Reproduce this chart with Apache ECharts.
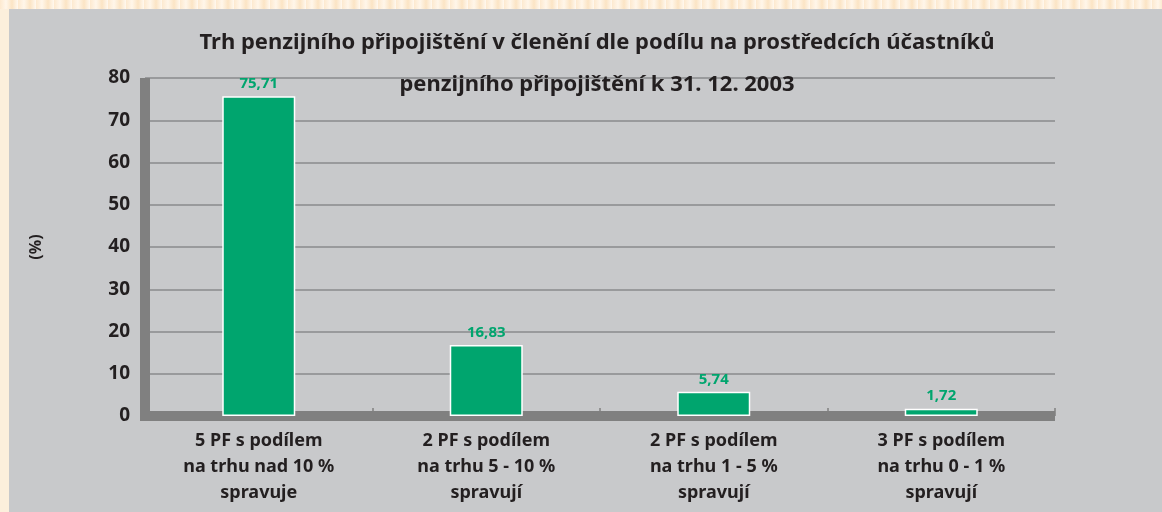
<!DOCTYPE html>
<html>
<head>
<meta charset="utf-8">
<script src="https://cdn.jsdelivr.net/npm/echarts@6/dist/echarts.min.js"></script>
<style>
	html, body {
		margin: 0;
		padding: 0;
		background: #fcefdc;
	}
	.border-top {
		position: absolute;
		left: 0;
		top: 0;
		width: 1162px;
		height: 9px;
		background: repeating-linear-gradient(90deg, #fde9cf 0px, #fff6ea 6px, #fbe4c4 12px, #fff8ef 18px);
	}
	#chart {
		position: absolute;
		left: 0;
		top: 0;
		width: 1162px;
		height: 512px;
	}
</style>
</head>
<body>
<div class="border-top"></div>
<div id="chart"></div>
<script>
	let categories = [
		'5 PF s podílem\nna trhu nad 10 %\nspravuje',
		'2 PF s podílem\nna trhu 5 - 10 %\nspravují',
		'2 PF s podílem\nna trhu 1 - 5 %\nspravují',
		'3 PF s podílem\nna trhu 0 - 1 %\nspravují'
	];
	let shares = [75.71, 16.83, 5.74, 1.72];
	let yTicks = [0, 10, 20, 30, 40, 50, 60, 70, 80];

	let font = 'Noto Sans';

	let option = {
		backgroundColor: 'transparent',
		animation: false,
		graphic: [{
			type: 'rect',
			z: -100,
			silent: true,
			shape: { x: 9, y: 9, width: 1153, height: 503 },
			style: { fill: '#c8c9cb' }
		}, {
			// fill the corner where the two thick axis lines meet
			type: 'rect',
			silent: true,
			shape: { x: 140, y: 411, width: 10, height: 10 },
			style: { fill: '#808080' }
		}],
		title: {
			text: 'Trh penzijního připojištění v členění dle podílu na prostředcích účastníků\npenzijního připojištění k 31. 12. 2003',
			left: 592,
			textAlign: 'center',
			top: 17,
			textStyle: {
				fontFamily: font,
				fontSize: 22,
				fontWeight: 'bold',
				color: '#231f20',
				lineHeight: 42
			}
		},
		grid: {
			left: 145,
			right: 107,
			top: 78,
			bottom: 96
		},
		xAxis: {
			type: 'category',
			data: categories,
			axisLine: {
				lineStyle: { color: '#808080', width: 10, cap: 'butt' }
			},
			axisTick: {
				show: true,
				inside: true,
				length: 8,
				lineStyle: { color: '#808080', width: 1.5 }
			},
			axisLabel: {
				margin: 12,
				fontFamily: font,
				fontSize: 18,
				fontWeight: 'bold',
				color: '#231f20',
				lineHeight: 26
			}
		},
		yAxis: {
			type: 'value',
			min: yTicks[0],
			max: yTicks[yTicks.length - 1],
			interval: 10,
			name: '(%)',
			nameLocation: 'middle',
			nameRotate: 90,
			nameGap: 101,
			nameTextStyle: {
				fontFamily: font,
				fontSize: 16,
				fontWeight: 'bold',
				color: '#231f20'
			},
			axisLine: {
				show: true,
				lineStyle: { color: '#808080', width: 10, cap: 'butt' }
			},
			axisTick: { show: false },
			axisLabel: {
				margin: 15,
				fontFamily: font,
				fontSize: 19,
				fontWeight: 'bold',
				color: '#231f20'
			},
			splitLine: {
				lineStyle: { color: '#999a9c', width: 2 }
			}
		},
		series: [{
			type: 'bar',
			data: shares,
			barWidth: 73,
			itemStyle: {
				color: '#00a56e',
				borderColor: '#ffffff',
				borderWidth: 1.5
			},
			label: {
				show: true,
				position: 'top',
				distance: 5,
				fontFamily: font,
				fontSize: 15,
				fontWeight: 'bold',
				color: '#00a56e',
				formatter: function (p) {
					return p.value.toFixed(2).replace('.', ',');
				}
			}
		}]
	};

	let chart = echarts.init(document.getElementById('chart'), null, { renderer: 'canvas' });
	chart.setOption(option);
</script>
</body>
</html>
